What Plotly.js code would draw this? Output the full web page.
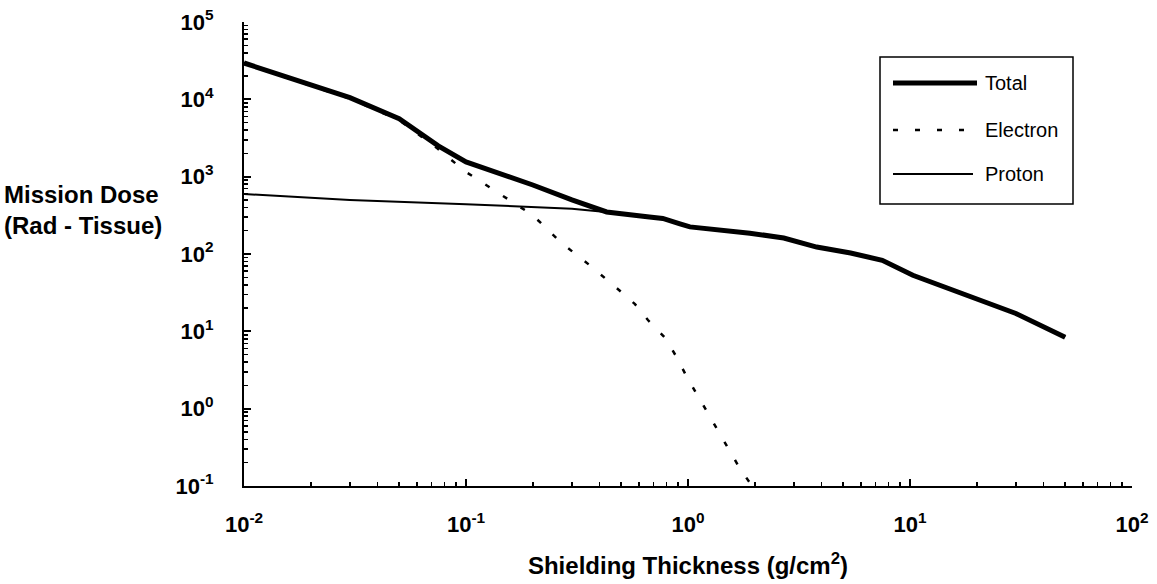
<!DOCTYPE html>
<html>
<head>
<meta charset="utf-8">
<script src="https://cdn.plot.ly/plotly-3.0.1.min.js"></script>
<style>
  html, body { margin: 0; padding: 0; background: #ffffff; }
  #chart { width: 1157px; height: 584px; }
</style>
</head>
<body>
<div id="chart"></div>
<script>
// Mission dose behind spherical shielding, by particle type
const totalThickness = [0.01, 0.03, 0.05, 0.062, 0.075, 0.1, 0.15, 0.2, 0.3, 0.43, 0.67, 0.77, 0.92, 1.02, 1.9, 2.7, 3.8, 5.4, 7.5, 10.3, 30, 50];
const totalDose      = [29500, 10500, 5600, 3630, 2500, 1550, 1050, 780, 500, 350, 300, 288, 245, 224, 186, 161, 123, 103, 83, 53, 17, 8.4];

const electronThickness = [0.01, 0.03, 0.05, 0.062, 0.074, 0.1, 0.147, 0.2, 0.27, 0.36, 0.49, 0.577, 0.66, 0.79, 0.89, 0.99, 1.23, 1.53, 1.71, 1.9];
const electronDose      = [29000, 10200, 5400, 3400, 2340, 1150, 560, 317, 138, 72, 34, 22.5, 14, 8.2, 4.6, 2.55, 0.87, 0.29, 0.17, 0.11];

const protonThickness = [0.01, 0.03, 0.1, 0.18, 0.3, 0.45, 0.67, 0.77, 0.92, 1.02, 1.9, 2.7, 3.8, 5.4, 7.5, 10.3, 30, 50];
const protonDose      = [596, 500, 440, 405, 385, 345, 295, 285, 243, 222, 185, 160, 122, 102, 82, 52, 17, 8.4];

const seriesNames = ['Total', 'Electron', 'Proton'];

const xTickVals = [0.01, 0.1, 1, 10, 100];
const xTickText = ['10<sup>-2</sup>', '10<sup>-1</sup>', '10<sup>0</sup>', '10<sup>1</sup>', '10<sup>2</sup>'];
const yTickVals = [0.1, 1, 10, 100, 1000, 10000, 100000];
const yTickText = ['10<sup>-1</sup>', '10<sup>0</sup>', '10<sup>1</sup>', '10<sup>2</sup>', '10<sup>3</sup>', '10<sup>4</sup>', '10<sup>5</sup>'];

const xTitle = 'Shielding Thickness (g/cm<sup>2</sup>)';
const yTitle = 'Mission Dose<br>(Rad - Tissue)';

// minor ticks at 2..9 within each decade
function decadeMinors(lowExp, highExp) {
  const out = [];
  for (let e = lowExp; e < highExp; e++) {
    for (let k = 2; k <= 9; k++) out.push(k * Math.pow(10, e));
  }
  return out;
}

const FONT = 'Liberation Sans, Arial, Helvetica, sans-serif';

// plot area in pixels
const L = 244, R = 25, T = 22, B = 98;
const W = 1157 - L - R, H = 584 - T - B;
const px = (x) => (x - L) / W;
const py = (y) => (584 - B - y) / H;

const traces = [
  {
    x: protonThickness, y: protonDose, name: seriesNames[2],
    type: 'scatter', mode: 'lines',
    line: { color: '#000', width: 2 }, showlegend: false
  },
  {
    x: electronThickness, y: electronDose, name: seriesNames[1],
    type: 'scatter', mode: 'lines',
    line: { color: '#000', width: 2.5, dash: '5px,16px' }, showlegend: false
  },
  {
    x: totalThickness, y: totalDose, name: seriesNames[0],
    type: 'scatter', mode: 'lines',
    line: { color: '#000', width: 5 }, showlegend: false
  }
];

// legend box drawn as shapes + text
const legendRows = [
  { name: seriesNames[0], y: 83, width: 5, dash: 'solid', x1: 977 },
  { name: seriesNames[1], y: 130, width: 2.5, dash: '5px,17px', x1: 964 },
  { name: seriesNames[2], y: 174, width: 2, dash: 'solid', x1: 973 }
];

const shapes = [
  {
    type: 'rect', xref: 'paper', yref: 'paper',
    x0: px(880), x1: px(1073), y0: py(57), y1: py(204),
    line: { color: '#000', width: 1.5 }, fillcolor: 'rgba(0,0,0,0)'
  }
];
const annotations = [
  {
    text: yTitle, xref: 'paper', yref: 'paper',
    x: px(2), y: py(210), xanchor: 'left', yanchor: 'middle', align: 'left',
    showarrow: false, font: { family: FONT, size: 24, color: '#000', weight: 'bold' }
  }
];
legendRows.forEach((r) => {
  shapes.push({
    type: 'line', xref: 'paper', yref: 'paper',
    x0: px(893), x1: px(r.x1), y0: py(r.y), y1: py(r.y),
    line: { color: '#000', width: r.width, dash: r.dash }
  });
  annotations.push({
    text: r.name, xref: 'paper', yref: 'paper',
    x: px(983), y: py(r.y), xanchor: 'left', yanchor: 'middle',
    showarrow: false, font: { family: FONT, size: 20, color: '#000' }
  });
});

const axisCommon = {
  type: 'log',
  showline: true, linecolor: '#000', linewidth: 2,
  showgrid: false, zeroline: false,
  ticks: 'inside', ticklen: 7, tickwidth: 2, tickcolor: '#000',
  tickmode: 'array',
  tickfont: { family: FONT, size: 22, color: '#000', weight: 'bold' }
};

const layout = {
  width: 1157, height: 584,
  margin: { l: L, r: R, t: T, b: B },
  paper_bgcolor: '#fff', plot_bgcolor: '#fff',
  showlegend: false,
  xaxis: Object.assign({}, axisCommon, {
    range: [-2, 2],
    tickvals: xTickVals, ticktext: xTickText,
    ticklabelstandoff: 18,
    minor: { tickmode: 'array', tickvals: decadeMinors(-2, 2), ticks: 'inside', ticklen: 4, tickwidth: 1.5, tickcolor: '#000', showgrid: false },
    title: { text: xTitle, standoff: 21, font: { family: FONT, size: 24, color: '#000', weight: 'bold' } },
    automargin: false
  }),
  yaxis: Object.assign({}, axisCommon, {
    range: [-1, 5],
    tickvals: yTickVals, ticktext: yTickText,
    ticklabelstandoff: 24,
    minor: { tickmode: 'array', tickvals: decadeMinors(-1, 5), ticks: 'inside', ticklen: 4, tickwidth: 1.5, tickcolor: '#000', showgrid: false },
    automargin: false
  }),
  shapes: shapes,
  annotations: annotations
};

Plotly.newPlot('chart', traces, layout, { staticPlot: true, displayModeBar: false });
</script>
</body>
</html>
